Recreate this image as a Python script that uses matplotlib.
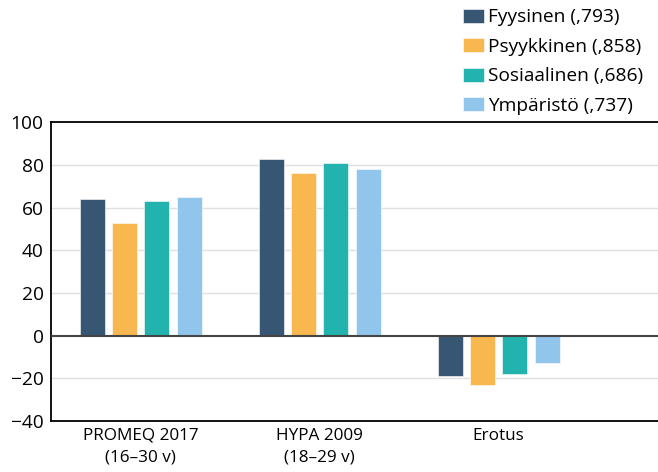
import matplotlib
matplotlib.use("Agg")
import matplotlib.pyplot as plt
import numpy as np

categories = ["PROMEQ 2017\n(16–30 v)", "HYPA 2009\n(18–29 v)", "Erotus"]
series_names = ["Fyysinen (,793)", "Psyykkinen (,858)", "Sosiaalinen (,686)", "Ympäristö (,737)"]
fyysinen = [64, 83, -19]
psyykkinen = [53, 76, -23]
sosiaalinen = [63, 81, -18]
ymparisto = [65, 78, -13]
colors = ["#375673", "#F9B74F", "#22B3AE", "#91C5EC"]
yticks = [-40, -20, 0, 20, 40, 60, 80, 100]

plt.rcParams['font.family'] = ['Open Sans', 'DejaVu Sans']
FS = 13.8

fig = plt.figure(figsize=(6.58, 4.72), dpi=100)
ax = fig.add_axes([0.077, 0.108, 0.923, 0.633])

x = np.arange(len(categories))
width = 0.14
offset = 0.181
all_series = [fyysinen, psyykkinen, sosiaalinen, ymparisto]
for i, (vals, name, col) in enumerate(zip(all_series, series_names, colors)):
    ax.bar(x + (i - 1.5) * offset, vals, width, color=col, label=name,
           edgecolor='white', linewidth=0.4, zorder=3)

ax.set_ylim(-40, 100)
ax.set_xlim(-0.503, 2.89)
ax.set_yticks(yticks)
ax.set_yticklabels(["−40", "−20", "0", "20", "40", "60", "80", "100"])
for v in [-20, 20, 40, 60, 80]:
    ax.axhline(v, color='#e0e0e0', linewidth=1, zorder=1)
ax.axhline(0, color='#444444', linewidth=1.5, zorder=4)

ax.set_xticks(x)
ax.set_xticklabels(categories, linespacing=1.45)
ax.tick_params(axis='both', length=0, colors='black')
ax.tick_params(axis='y', pad=5, labelsize=FS)
ax.tick_params(axis='x', pad=5, labelsize=12.3)
ax.spines['right'].set_visible(False)
for s in ['left', 'top', 'bottom']:
    ax.spines[s].set_linewidth(1.3)
    ax.spines[s].set_color('black')

fig.legend(loc='upper left', bbox_to_anchor=(0.7036, 0.982), frameon=False,
           fontsize=FS, handlelength=1.1, handleheight=0.74,
           handletextpad=0.2, labelspacing=0.6, borderaxespad=0, borderpad=0)

fig.savefig("out.png", dpi=100)
